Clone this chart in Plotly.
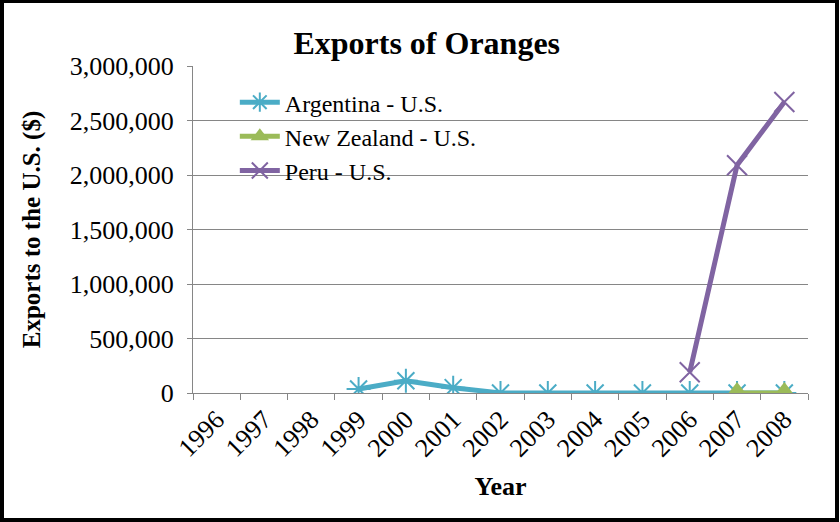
import plotly.graph_objects as go

years = ["1996", "1997", "1998", "1999", "2000", "2001", "2002",
         "2003", "2004", "2005", "2006", "2007", "2008"]

argentina_years = ["1999", "2000", "2001", "2002", "2003", "2004",
                   "2005", "2006", "2007", "2008"]
argentina_values = [37000, 113000, 49000, 0, 0, 0, 0, 0, 0, 0]

nz_years = ["2007", "2008"]
nz_values = [0, 0]

peru_years = ["2006", "2007", "2008"]
peru_values = [190000, 2090000, 2670000]

y_ticks = [0, 500000, 1000000, 1500000, 2000000, 2500000, 3000000]

SERIF = "Liberation Serif"

fig = go.Figure()
fig.add_trace(go.Scatter(
    x=argentina_years, y=argentina_values, name="Argentina - U.S.",
    mode="lines+markers",
    line=dict(color="#4BACC6", width=5),
    marker=dict(symbol="asterisk-open", size=20,
                line=dict(color="#4BACC6", width=2)),
))
fig.add_trace(go.Scatter(
    x=nz_years, y=nz_values, name="New Zealand - U.S.",
    mode="lines+markers",
    line=dict(color="#9BBB59", width=5),
    marker=dict(symbol="triangle-up", size=22, color="#9BBB59"),
))
fig.add_trace(go.Scatter(
    x=peru_years, y=peru_values, name="Peru - U.S.",
    mode="lines+markers",
    line=dict(color="#8064A2", width=5),
    marker=dict(symbol="x-thin-open", size=20,
                line=dict(color="#8064A2", width=2)),
))

W, H = 840, 522
L, R, T, B = 193, 32, 66, 129
pw, ph = W - L - R, H - T - B

fig.update_layout(
    width=W, height=H,
    margin=dict(l=L, r=R, t=T, b=B),
    paper_bgcolor="white", plot_bgcolor="white",
    font=dict(family=SERIF, size=26, color="black"),
    title=dict(text="<b>Exports of Oranges</b>", x=0.508, xanchor="center",
               y=1 - 43 / H, yanchor="middle",
               font=dict(family=SERIF, size=32, color="black")),
    showlegend=True,
    legend=dict(x=0.068, y=0.957, xanchor="left", yanchor="top",
                bgcolor="rgba(0,0,0,0)", font=dict(family=SERIF, size=24),
                tracegroupgap=0, itemwidth=40),
    xaxis=dict(
        type="category", categoryorder="array", categoryarray=years,
        range=[-0.5, len(years) - 0.5],
        tickangle=-45, tickson="boundaries", ticks="outside", ticklen=6,
        tickcolor="#868686", showline=True, linecolor="#868686", linewidth=1,
        showgrid=False, tickfont=dict(family=SERIF, size=26),
        title=dict(text="<b>Year</b>", font=dict(family=SERIF, size=26),
                   standoff=15),
    ),
    yaxis=dict(
        range=[0, 3000000], tickvals=y_ticks, tickformat=",d",
        ticks="outside", ticklen=5, tickcolor="#868686",
        ticklabelstandoff=8,
        showline=True, linecolor="#868686", linewidth=1,
        showgrid=True, gridcolor="#868686", gridwidth=1,
        zeroline=False, tickfont=dict(family=SERIF, size=26),
        title=dict(text="<b>Exports to the U.S. ($)</b>",
                   font=dict(family=SERIF, size=25), standoff=22),
    ),
)

# outer chart frame
fig.add_shape(type="rect", xref="paper", yref="paper",
              x0=(2 - L) / pw, x1=(W - 3 - L) / pw,
              y0=-(H - 2 - T - ph) / ph, y1=(ph + T - 1) / ph,
              line=dict(color="black", width=4), fillcolor="rgba(0,0,0,0)",
              layer="above")

fig.write_html("out.html")
